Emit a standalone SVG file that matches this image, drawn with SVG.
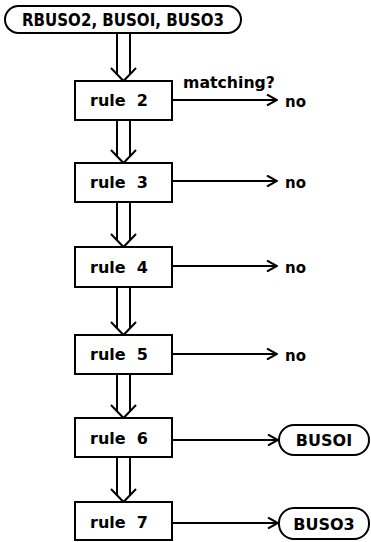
<svg xmlns="http://www.w3.org/2000/svg" width="371" height="542" viewBox="0 0 371 542">
<style>
.bx{fill:#fff;stroke:#000;stroke-width:2}
.ln{fill:none;stroke:#000;stroke-width:2}
.t{font-family:"DejaVu Sans","Liberation Sans",sans-serif;font-weight:bold;fill:#000}
</style>
<defs>
<marker id="ah" viewBox="0 0 12 12" refX="11" refY="6" markerWidth="12" markerHeight="12" markerUnits="userSpaceOnUse" orient="auto">
<path d="M1,0.5 L11,6 L1,11.5" fill="none" stroke="#000" stroke-width="2"/>
</marker>
</defs>
<rect width="371" height="542" fill="#fff"/>
<g id="connectors">
<path class="ln" d="M117,33 V74 M130,33 V74 M111,68 L123.5,81 L136,68"/>
<path class="ln" d="M117,120 V156 M130,120 V156 M111,150 L123.5,163 L136,150"/>
<path class="ln" d="M117,202 V240 M130,202 V240 M111,234 L123.5,247 L136,234"/>
<path class="ln" d="M117,287 V328 M130,287 V328 M111,322 L123.5,335 L136,322"/>
<path class="ln" d="M117,374 V411 M130,374 V411 M111,405 L123.5,418 L136,405"/>
<path class="ln" d="M117,457 V495 M130,457 V495 M111,489 L123.5,502 L136,489"/>
<line class="ln" x1="172" y1="100" x2="277" y2="100" marker-end="url(#ah)"/>
<line class="ln" x1="172" y1="181" x2="277" y2="181" marker-end="url(#ah)"/>
<line class="ln" x1="172" y1="266" x2="277" y2="266" marker-end="url(#ah)"/>
<line class="ln" x1="172" y1="354" x2="277" y2="354" marker-end="url(#ah)"/>
<line class="ln" x1="172" y1="440" x2="278" y2="440" marker-end="url(#ah)"/>
<line class="ln" x1="172" y1="523" x2="278" y2="523" marker-end="url(#ah)"/>
<text class="t" x="183" y="88" font-size="16" textLength="92" lengthAdjust="spacingAndGlyphs">matching?</text>
</g>
<g id="start">
<rect class="bx" x="5" y="6" width="236" height="27" rx="13.5"/>
<text class="t" x="123" y="26" font-size="17" text-anchor="middle" textLength="202" lengthAdjust="spacingAndGlyphs">RBUSO2, BUSOI, BUSO3</text>
</g>
<g id="rule2"><rect class="bx" x="75" y="81" width="97" height="39"/><text class="t" x="119" y="106" font-size="16" text-anchor="middle" xml:space="preserve">rule  2</text></g>
<g id="rule3"><rect class="bx" x="75" y="163" width="97" height="39"/><text class="t" x="119" y="188" font-size="16" text-anchor="middle" xml:space="preserve">rule  3</text></g>
<g id="rule4"><rect class="bx" x="75" y="247" width="97" height="40"/><text class="t" x="119" y="273" font-size="16" text-anchor="middle" xml:space="preserve">rule  4</text></g>
<g id="rule5"><rect class="bx" x="75" y="335" width="97" height="39"/><text class="t" x="119" y="360" font-size="16" text-anchor="middle" xml:space="preserve">rule  5</text></g>
<g id="rule6"><rect class="bx" x="75" y="418" width="97" height="39"/><text class="t" x="119" y="444" font-size="16" text-anchor="middle" xml:space="preserve">rule  6</text></g>
<g id="rule7"><rect class="bx" x="75" y="502" width="97" height="38"/><text class="t" x="119" y="528" font-size="16" text-anchor="middle" xml:space="preserve">rule  7</text></g>
<g id="no2"><text class="t" x="285" y="107" font-size="15">no</text></g>
<g id="no3"><text class="t" x="285" y="188" font-size="15">no</text></g>
<g id="no4"><text class="t" x="285" y="273" font-size="15">no</text></g>
<g id="no5"><text class="t" x="285" y="361" font-size="15">no</text></g>
<g id="busoi"><rect class="bx" x="279" y="425" width="90" height="30" rx="15"/><text class="t" x="324" y="446" font-size="16" text-anchor="middle">BUSOI</text></g>
<g id="buso3"><rect class="bx" x="279" y="508" width="90" height="31" rx="15"/><text class="t" x="324" y="530" font-size="16" text-anchor="middle">BUSO3</text></g>
</svg>
